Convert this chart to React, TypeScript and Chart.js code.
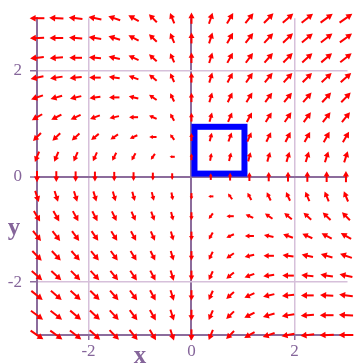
import { useEffect, useRef } from 'react';
import { Chart, registerables } from 'chart.js';

Chart.register(...registerables);

// Grid of sample points for the direction field (step 3/8)
const gridX = [-3, -2.625, -2.25, -1.875, -1.5, -1.125, -0.75, -0.375, 0, 0.375, 0.75, 1.125, 1.5, 1.875, 2.25, 2.625, 3];
const gridY = [-3, -2.625, -2.25, -1.875, -1.5, -1.125, -0.75, -0.375, 0, 0.375, 0.75, 1.125, 1.5, 1.875, 2.25, 2.625, 3];
const xTicks = [-2, 0, 2];
const yTicks = [-2, 0, 2];
const boxX = [0, 1];
const boxY = [0, 1];
const xTitle = 'x';
const yTitle = 'y';

// The plotted system: dx/dt = x*y, dy/dt = x + y
const fieldU = (x: number, y: number) => x * y;
const fieldV = (x: number, y: number) => x + y;

const DARK = '#8c6c9c';
const LIGHT = '#d6c0da';
const TEXT = '#85659a';
const FONT = "'Liberation Serif', 'DejaVu Serif', serif";

const arrowPlugin = {
  id: 'vectorArrows',
  afterDatasetsDraw(chart: any) {
    const ctx = chart.ctx;
    const xs = chart.scales.x;
    const ys = chart.scales.y;
    const sx = Math.abs(xs.getPixelForValue(1) - xs.getPixelForValue(0));
    const sy = Math.abs(ys.getPixelForValue(1) - ys.getPixelForValue(0));
    const meta = chart.getDatasetMeta(0);
    const raw = chart.data.datasets[0].data as any[];
    ctx.save();
    ctx.strokeStyle = '#ff0000';
    ctx.fillStyle = '#ff0000';
    ctx.lineWidth = 2;
    ctx.lineCap = 'butt';
    meta.data.forEach((el: any, i: number) => {
      const p = raw[i];
      const mag = Math.hypot(p.u, p.v);
      if (mag === 0) return;
      let dx = p.u * sx;
      let dy = -p.v * sy;
      const n = Math.hypot(dx, dy);
      dx /= n;
      dy /= n;
      const L = 8.5 * Math.pow(mag, 0.25);
      const cx = el.x;
      const cy = el.y;
      const x0 = cx - (dx * L) / 2;
      const y0 = cy - (dy * L) / 2;
      const x1 = cx + (dx * L) / 2;
      const y1 = cy + (dy * L) / 2;
      const hl = Math.min(6, 0.5 * L);
      const hw = hl * 0.55;
      ctx.beginPath();
      ctx.moveTo(x0, y0);
      ctx.lineTo(x1 - dx * hl * 0.6, y1 - dy * hl * 0.6);
      ctx.stroke();
      const bx = x1 - dx * hl;
      const by = y1 - dy * hl;
      ctx.beginPath();
      ctx.moveTo(x1, y1);
      ctx.lineTo(bx - dy * hw, by + dx * hw);
      ctx.lineTo(bx + dy * hw, by - dx * hw);
      ctx.closePath();
      ctx.fill();
    });
    ctx.restore();
  },
};

const boxPlugin = {
  id: 'blueBox',
  beforeDatasetsDraw(chart: any) {
    const ctx = chart.ctx;
    const xs = chart.scales.x;
    const ys = chart.scales.y;
    const lw = 6;
    const l = xs.getPixelForValue(boxX[0]) + lw / 2;
    const r = xs.getPixelForValue(boxX[1]) + 1.5;
    const t = ys.getPixelForValue(boxY[1]) + lw / 2;
    const b = ys.getPixelForValue(boxY[0]) - lw / 2;
    ctx.save();
    ctx.strokeStyle = '#0000ff';
    ctx.lineWidth = lw;
    ctx.lineJoin = 'miter';
    ctx.strokeRect(l, t, r - l, b - t);
    ctx.restore();
  },
};

const titlePlugin = {
  id: 'axisTitles',
  afterDraw(chart: any) {
    const ctx = chart.ctx;
    const xs = chart.scales.x;
    const ys = chart.scales.y;
    ctx.save();
    ctx.fillStyle = TEXT;
    ctx.font = `bold 25px ${FONT}`;
    ctx.textAlign = 'center';
    ctx.textBaseline = 'alphabetic';
    ctx.fillText(xTitle, xs.getPixelForValue(-1), 363);
    ctx.fillText(yTitle, 14, ys.getPixelForValue(-1) + 6);
    ctx.restore();
  },
};

export default function App() {
  const ref = useRef<HTMLCanvasElement>(null);

  useEffect(() => {
    if (!ref.current) return;
    const points: any[] = [];
    gridX.forEach((x) => {
      gridY.forEach((y) => {
        points.push({ x, y, u: fieldU(x, y), v: fieldV(x, y) });
      });
    });

    const gridColor = (c: any) => (c.tick && c.tick.value === 0 ? DARK : LIGHT);
    const gridWidth = (c: any) => (c.tick && c.tick.value === 0 ? 2 : 1.5);

    const chart = new Chart(ref.current, {
      type: 'scatter',
      data: {
        datasets: [
          {
            data: points,
            pointRadius: 0,
            pointHoverRadius: 0,
            showLine: false,
          },
        ],
      },
      options: {
        animation: false,
        responsive: false,
        events: [],
        layout: { padding: { top: 15, right: 8.5, left: 0, bottom: 0 } },
        plugins: { legend: { display: false }, tooltip: { enabled: false } },
        scales: {
          x: {
            type: 'linear',
            position: 'bottom',
            min: -3,
            max: 3.03,
            afterBuildTicks: (s: any) => {
              s.ticks = xTicks.map((v) => ({ value: v }));
            },
            afterFit: (s: any) => {
              s.height = 29;
            },
            grid: {
              color: gridColor,
              lineWidth: gridWidth,
              drawTicks: true,
              tickLength: 5,
              tickColor: DARK,
              tickWidth: 1.5,
            },
            border: { display: true, color: DARK, width: 2 },
            ticks: {
              autoSkip: false,
              maxRotation: 0,
              padding: 1,
              color: TEXT,
              font: { family: FONT, size: 17 },
              callback: (v: any) => String(v),
            },
          },
          y: {
            type: 'linear',
            position: 'left',
            min: -3,
            max: 3,
            afterBuildTicks: (s: any) => {
              s.ticks = yTicks.map((v) => ({ value: v }));
            },
            afterFit: (s: any) => {
              s.width = 37;
            },
            grid: {
              color: gridColor,
              lineWidth: gridWidth,
              drawTicks: true,
              tickLength: 7,
              tickColor: DARK,
              tickWidth: 1.5,
            },
            border: { display: true, color: DARK, width: 2 },
            ticks: {
              autoSkip: false,
              padding: 8,
              color: TEXT,
              font: { family: FONT, size: 17 },
              callback: (v: any) => String(v),
            },
          },
        },
      },
      plugins: [boxPlugin, arrowPlugin, titlePlugin],
    } as any);

    return () => chart.destroy();
  }, []);

  return (
    <div style={{ position: 'fixed', left: 0, top: 0, width: 356, height: 364, background: '#fff' }}>
      <canvas ref={ref} width={356} height={364} style={{ display: 'block' }} />
    </div>
  );
}
